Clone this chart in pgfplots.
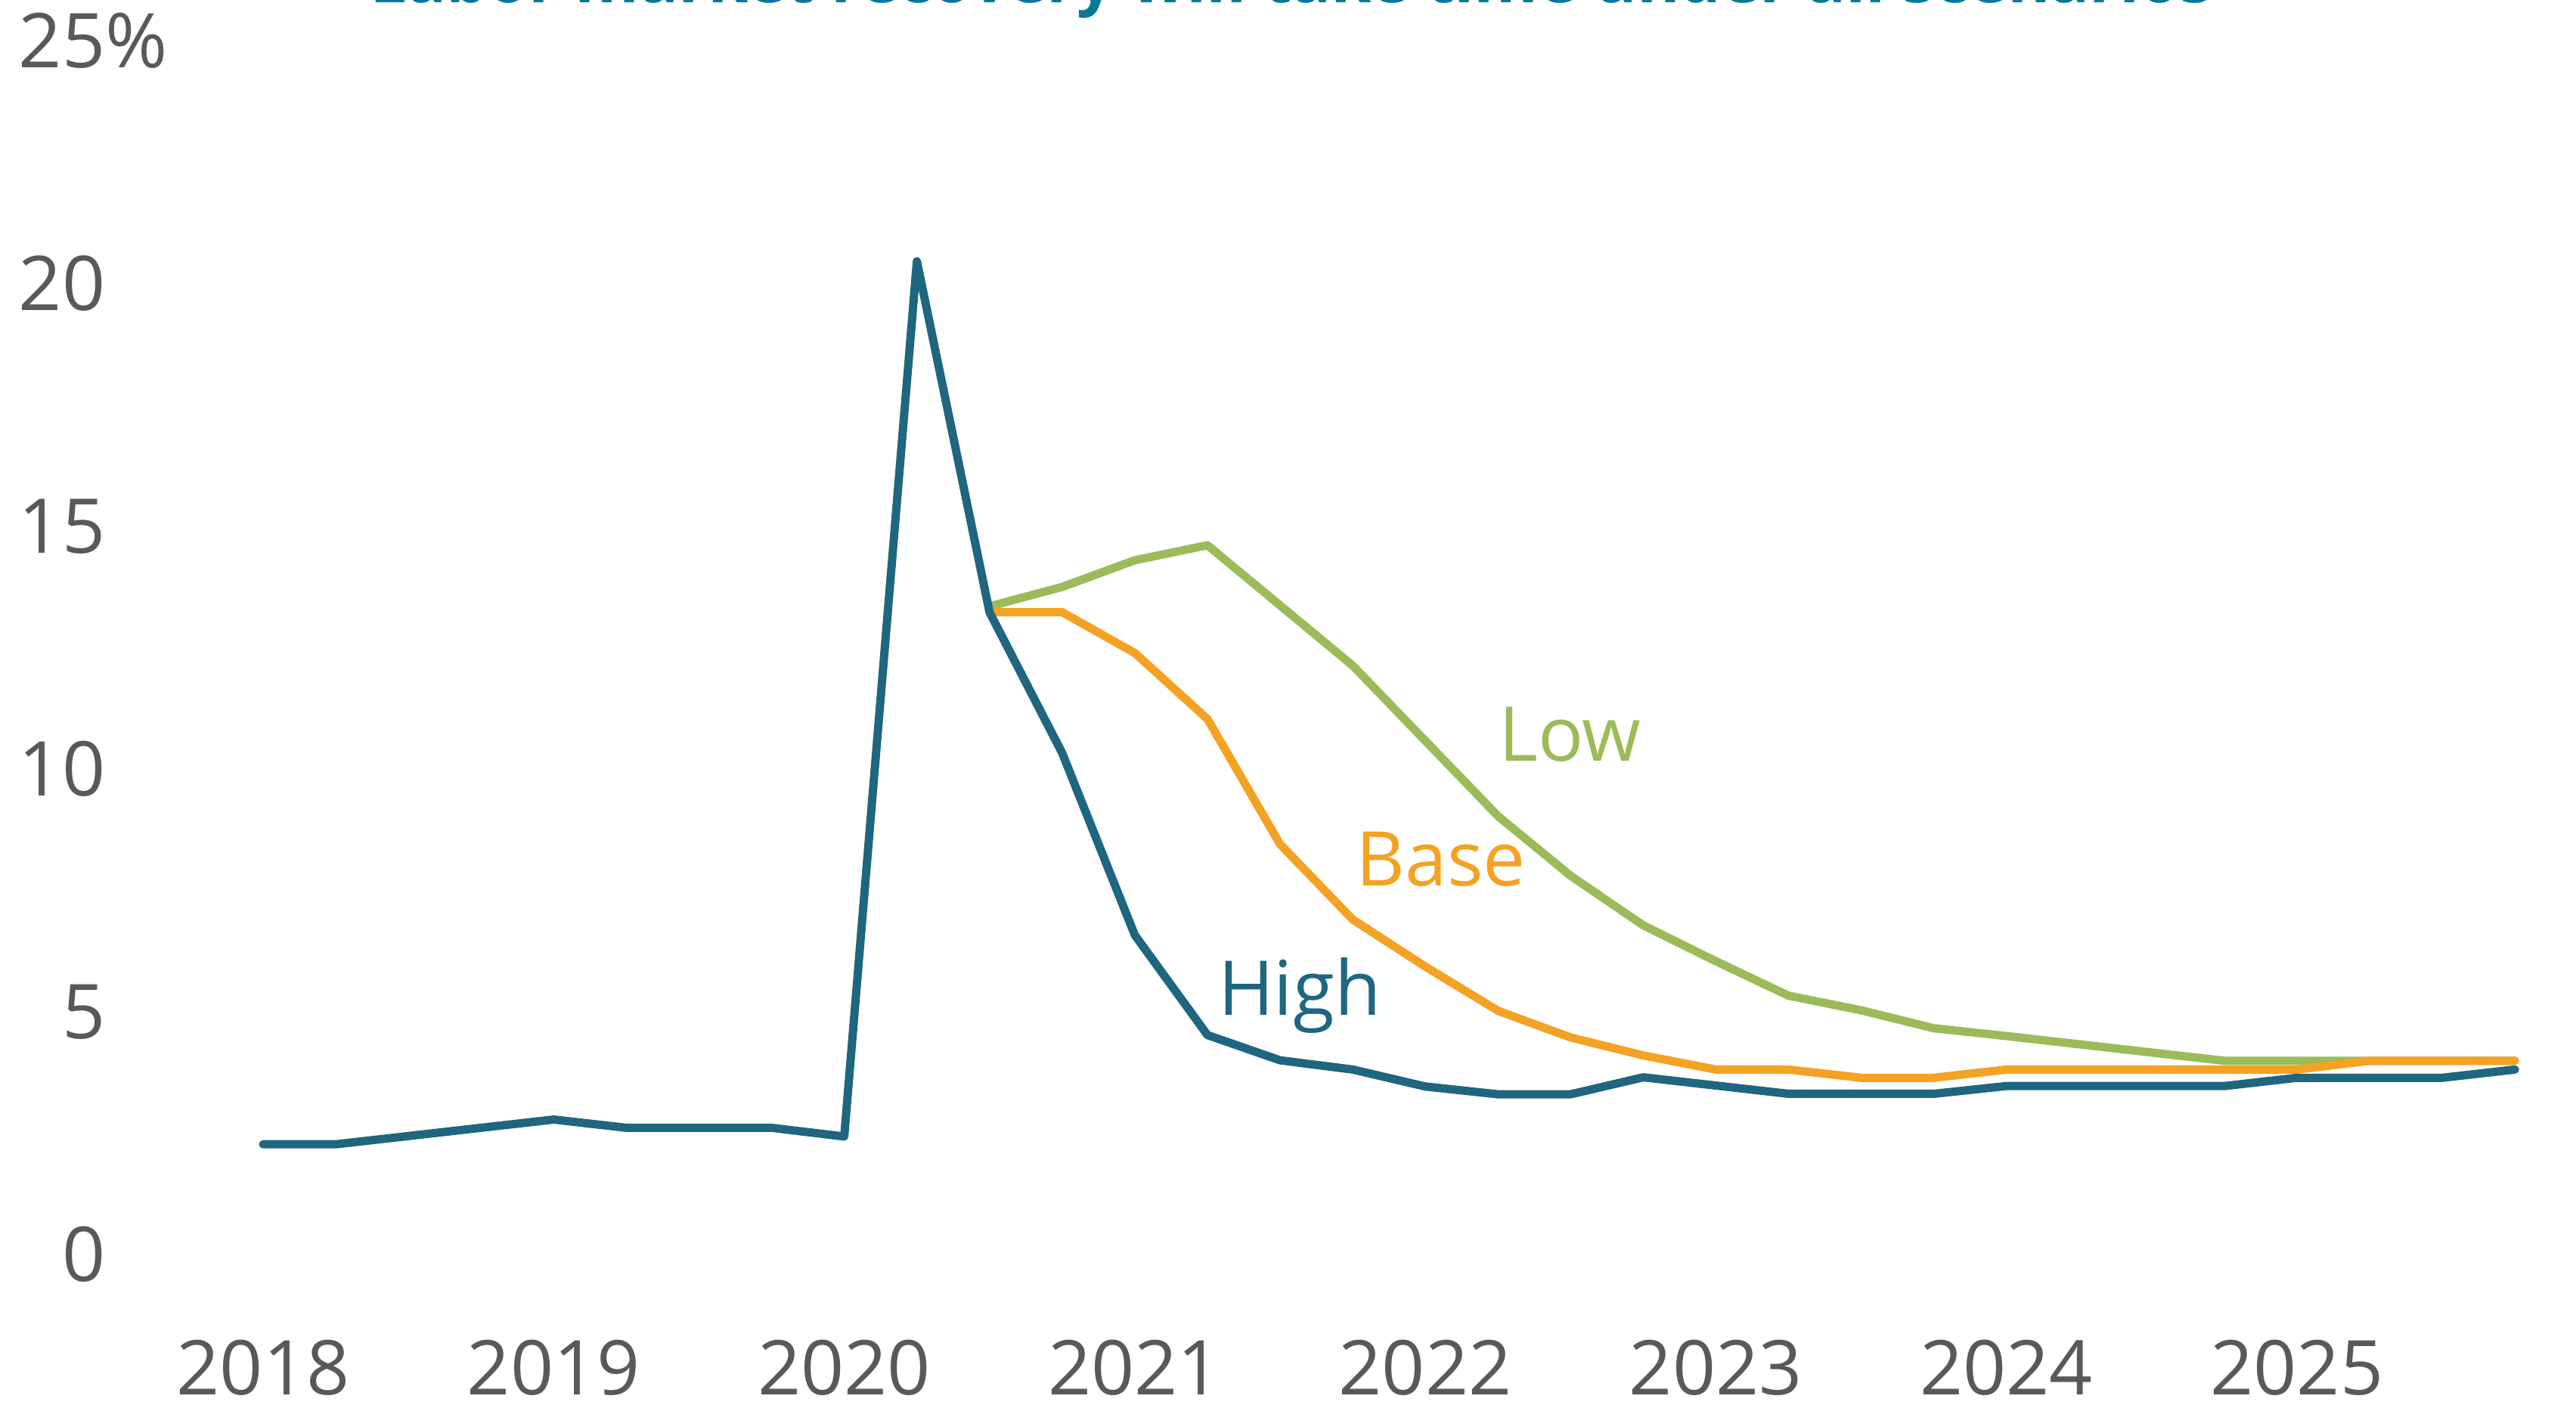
\documentclass[border=0pt]{standalone}
\usepackage{fontspec}
\setmainfont{Open Sans}
\usepackage{pgfplots}
\pgfplotsset{compat=1.18}

\definecolor{high}{HTML}{1F6680}
\definecolor{base}{HTML}{F4A224}
\definecolor{low}{HTML}{9BBB59}
\definecolor{titleteal}{HTML}{08789A}
\definecolor{tickgray}{HTML}{595959}

\begin{document}
\begin{tikzpicture}
\begin{axis}[
  x=96.075pt, y=16.05pt,
  xmin=2017.0945, xmax=2025.96,
  ymin=-3.0997, ymax=25.841,
  axis line style={draw=none},
  tick style={draw=none},
  xtick={2018,...,2025},
  xticklabels={2018,2019,2020,2021,2022,2023,2024,2025},
  ytick={0,5,...,25},
  yticklabels={0,5,10,15,20,25\rlap{\%}},
  tick label style={font=\fontsize{25}{30}\selectfont, text=tickgray, inner sep=0pt},
  xticklabel style={anchor=center, yshift=12.2pt},
  yticklabel style={anchor=east, xshift=35pt},
  every axis plot/.append style={line width=2.75pt, line cap=round, line join=round, no markers},
]
% low scenario
\addplot[low] coordinates {
 (2020.50,13.35) (2020.75,13.75) (2021.00,14.30) (2021.25,14.61)
 (2021.50,13.37) (2021.75,12.13) (2022.00,10.58) (2022.25,9.03)
 (2022.50,7.80) (2022.75,6.78) (2023.00,6.04) (2023.25,5.33)
 (2023.50,5.03) (2023.75,4.66) (2024.00,4.50) (2024.25,4.33)
 (2024.50,4.16) (2024.75,3.99) (2025.00,3.99) (2025.25,3.99)
 (2025.50,3.99) (2025.75,3.99)};
% base scenario
\addplot[base] coordinates {
 (2020.50,13.23) (2020.75,13.23) (2021.00,12.39) (2021.25,11.03)
 (2021.50,8.45) (2021.75,6.90) (2022.00,5.93) (2022.25,5.02)
 (2022.50,4.47) (2022.75,4.10) (2023.00,3.81) (2023.25,3.81)
 (2023.50,3.64) (2023.75,3.64) (2024.00,3.81) (2024.25,3.81)
 (2024.50,3.81) (2024.75,3.81) (2025.00,3.81) (2025.25,3.99)
 (2025.50,3.99) (2025.75,3.99)};
% high scenario, incl. history
\addplot[high] coordinates {
 (2018.00,2.27) (2018.25,2.27) (2018.50,2.44) (2018.75,2.61)
 (2019.00,2.78) (2019.25,2.61) (2019.50,2.61) (2019.75,2.61)
 (2020.00,2.43) (2020.25,20.46) (2020.50,13.23) (2020.75,10.33)
 (2021.00,6.58) (2021.25,4.52) (2021.50,4.00) (2021.75,3.81)
 (2022.00,3.46) (2022.25,3.30) (2022.50,3.30) (2022.75,3.65)
 (2023.00,3.48) (2023.25,3.31) (2023.50,3.31) (2023.75,3.31)
 (2024.00,3.47) (2024.25,3.47) (2024.50,3.47) (2024.75,3.47)
 (2025.00,3.64) (2025.25,3.64) (2025.50,3.64) (2025.75,3.81)};

\node[anchor=base, text=low, font=\fontsize{25}{30}\selectfont] at (axis cs:2022.497,10.16) {Low};
\node[anchor=base, text=base, font=\fontsize{25}{30}\selectfont] at (axis cs:2022.054,7.59) {Base};
\node[anchor=base, text=high, font=\fontsize{25}{30}\selectfont] at (axis cs:2021.567,4.93) {High};
% title, cut by the top edge as in the source
\node[anchor=base, text=titleteal, font=\fontsize{21.6}{26}\selectfont\bfseries] at (axis cs:2021.539,25.79) {Labor market recovery will take time under all scenarios};
\end{axis}
\pgfresetboundingbox
\useasboundingbox (current axis.south west) rectangle (current axis.north east);
\end{tikzpicture}
\end{document}
